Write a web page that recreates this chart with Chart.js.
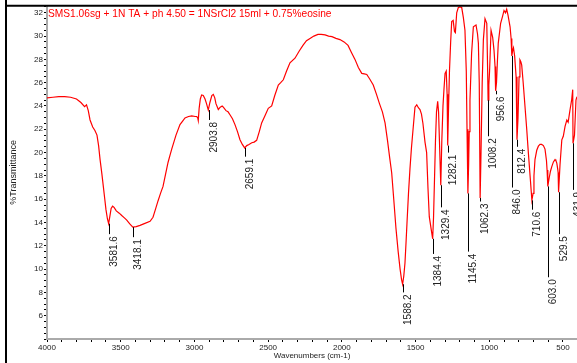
<!DOCTYPE html>
<html>
<head>
<meta charset="utf-8">
<script src="https://cdn.jsdelivr.net/npm/chart.js@4.4.1/dist/chart.umd.min.js"></script>
<style>
  html, body { margin: 0; padding: 0; background: #fff; }
  canvas { display: block; }
</style>
</head>
<body>
<canvas id="chart" width="577" height="363"></canvas>
<script>
const TITLE = "SMS1.06sg + 1N TA + ph 4.50 = 1NSrCl2 15ml + 0.75%eosine";

// spectrum (cm-1, %T)
const wavenumbers = [
  4000, 3960, 3920, 3880, 3840, 3800, 3770, 3745, 3732, 3720, 3708, 3690, 3675, 3661, 3650, 3640,
  3628, 3618, 3608, 3600, 3590, 3582, 3574, 3565, 3555, 3545, 3530, 3510, 3493, 3475, 3459, 3440,
  3418, 3395, 3369, 3340, 3301, 3281, 3265, 3247, 3230, 3213, 3195, 3179, 3165, 3154, 3125, 3098,
  3080, 3064, 3040, 3018, 2995, 2985, 2978, 2974, 2968, 2960, 2951, 2940, 2928, 2918, 2906, 2895,
  2882, 2872, 2862, 2854, 2838, 2825, 2812, 2804, 2786, 2772, 2759, 2742, 2725, 2708, 2691, 2675,
  2659, 2645, 2630, 2611, 2595, 2578, 2560, 2544, 2520, 2499, 2476, 2455, 2431, 2415, 2397, 2375,
  2352, 2318, 2290, 2264, 2240, 2216, 2190, 2162, 2140, 2114, 2090, 2067, 2040, 2013, 1985, 1958,
  1935, 1911, 1888, 1865, 1848, 1831, 1810, 1787, 1765, 1746, 1725, 1707, 1690, 1675, 1662, 1648,
  1633, 1618, 1605, 1595, 1588, 1580, 1572, 1565, 1558, 1548, 1538, 1528, 1517, 1504, 1492, 1481,
  1470, 1460, 1450, 1436, 1425, 1416, 1407, 1395, 1384, 1378, 1372, 1365, 1358, 1350, 1344, 1338,
  1329, 1322, 1314, 1307, 1300, 1292, 1286, 1282, 1276, 1270, 1262, 1255, 1245, 1236, 1230, 1221,
  1210, 1198, 1187, 1176, 1165, 1156, 1151, 1145, 1140, 1136, 1131, 1120, 1108, 1090, 1080, 1074,
  1068, 1062, 1056, 1048, 1040, 1029, 1017, 1011, 1008, 1003, 998, 988, 977, 968, 961, 957,
  951, 945, 939, 923, 910, 900, 890, 882, 873, 859, 852, 847, 841, 836, 828, 818,
  812, 805, 798, 792, 786, 780, 770, 758, 746, 735, 722, 711, 703, 697, 690, 678,
  667, 656, 645, 633, 622, 612, 608, 603, 598, 594, 585, 576, 565, 554, 548, 542,
  536, 533, 530, 525, 520, 508, 498, 486, 474, 465, 458, 452, 441, 434, 432, 427,
  422, 412, 405
];
const transmittance = [
  24.7, 24.75, 24.8, 24.8, 24.75, 24.6, 24.3, 23.95, 24.1, 23.6, 22.8, 22.2, 21.9, 21.5, 20.6, 19.4,
  18.2, 17.1, 16.0, 15.1, 14.3, 13.9, 14.5, 15.2, 15.4, 15.3, 15.0, 14.8, 14.6, 14.4, 14.2, 13.9,
  13.6, 13.65, 13.75, 13.9, 14.1, 14.45, 15.1, 15.85, 16.5, 17.1, 18.2, 19.15, 19.8, 20.3, 21.5, 22.4,
  22.7, 22.97, 23.1, 23.15, 23.1, 23.1, 23.0, 22.75, 23.8, 24.6, 24.95, 24.9, 24.6, 24.2, 23.65, 24.3,
  24.9, 25.0, 24.7, 24.2, 23.7, 23.9, 24.0, 23.9, 23.6, 23.5, 23.25, 22.9, 22.4, 21.8, 21.1, 20.7,
  20.4, 20.6, 20.7, 20.85, 20.9, 21.05, 21.8, 22.55, 23.2, 23.8, 24.0, 24.9, 25.8, 26.0, 26.25, 27.0,
  27.7, 28.1, 28.7, 29.2, 29.6, 29.8, 30.0, 30.15, 30.15, 30.1, 30.0, 29.95, 29.8, 29.7, 29.5, 29.2,
  28.6, 28.0, 27.3, 26.8, 26.75, 26.7, 26.3, 25.8, 25.0, 24.25, 23.5, 22.55, 21.0, 19.5, 18.27, 16.0,
  13.5, 11.5, 10.0, 9.1, 8.7, 9.4, 10.5, 12.2, 14.0, 16.5, 18.6, 20.4, 22.0, 23.9, 24.1, 23.85,
  23.7, 23.3, 22.5, 20.9, 20.0, 17.0, 14.5, 13.5, 12.6, 14.5, 17.5, 21.0, 23.5, 24.4, 23.5, 21.0,
  17.2, 21.0, 24.0, 25.5, 26.8, 27.0, 25.0, 20.6, 24.0, 27.0, 29.5, 31.25, 31.35, 30.4, 30.3, 32.0,
  32.45, 32.5, 32.45, 31.6, 30.5, 27.0, 22.0, 16.5, 19.0, 21.8, 24.5, 28.5, 30.8, 30.95, 30.2, 29.4,
  26.0, 16.1, 20.0, 26.0, 29.7, 31.5, 31.1, 27.0, 24.5, 25.8, 27.0, 30.5, 29.9, 28.8, 27.4, 25.3,
  26.0, 27.8, 29.4, 31.1, 31.7, 32.2, 32.0, 32.3, 31.8, 30.8, 29.8, 28.3, 28.8, 29.0, 28.3, 26.5,
  21.1, 23.0, 26.5, 27.96, 27.8, 27.5, 26.0, 24.0, 22.0, 20.0, 17.8, 15.9, 16.5, 18.0, 19.4, 20.2,
  20.55, 20.7, 20.7, 20.6, 20.3, 19.3, 18.5, 17.1, 17.5, 17.8, 18.4, 18.8, 19.2, 19.4, 19.3, 19.1,
  18.6, 18.3, 16.6, 17.8, 19.0, 21.1, 21.4, 22.25, 22.8, 22.6, 23.2, 23.7, 24.55, 25.4, 20.8, 20.8,
  21.5, 24.5, 24.8
];

// labelled peaks: position, %T at the curve, %T where the label text starts
const peakWavenumbers = [3581.6, 3418.1, 2903.8, 2659.1, 1588.2, 1384.4, 1329.4, 1282.1, 1145.4,
  1062.3, 1008.2, 956.6, 846.0, 812.4, 710.6, 603.0, 529.5, 431.9];
const peakMinima = [13.9, 13.6, 23.65, 20.4, 8.7, 12.6, 17.2, 20.6, 16.5,
  16.1, 24.5, 25.3, 28.3, 21.1, 15.9, 17.1, 16.6, 20.8];
const peakLabelLevels = [13.0, 12.74, 22.8, 19.65, 8.0, 11.3, 15.3, 20.0, 11.5,
  15.8, 21.4, 25.0, 17.0, 20.5, 15.1, 9.3, 13.0, 16.8];

const xTickLabels = [4000, 3500, 3000, 2500, 2000, 1500, 1000, 500];
const yTickLabels = [6, 8, 10, 12, 14, 16, 18, 20, 22, 24, 26, 28, 30, 32];
const xMinorStep = 100;
const yMinorStep = 0.5;

const FONT = '"Liberation Sans", Arial, sans-serif';
Chart.defaults.font.family = FONT;
Chart.defaults.color = '#222';

function minorTicks(from, to, step) {
  const out = [];
  const n = Math.round((to - from) / step);
  for (let i = 0; i <= n; i++) out.push({ value: +(from + i * step).toFixed(3) });
  return out;
}

const peaksPlugin = {
  id: 'peaks',
  beforeDraw(chart) {
    const ctx = chart.ctx;
    ctx.save();
    ctx.fillStyle = '#fff';
    ctx.fillRect(0, 0, chart.width, chart.height);
    ctx.restore();
  },
  afterDatasetsDraw(chart) {
    const { ctx, scales: { x, y }, chartArea } = chart;
    ctx.save();
    ctx.strokeStyle = '#000';
    ctx.lineWidth = 1;
    ctx.fillStyle = '#222';
    ctx.font = '10px ' + FONT;
    peakWavenumbers.forEach((wn, i) => {
      const px = Math.round(x.getPixelForValue(wn)) + 0.5;
      const top = y.getPixelForValue(peakMinima[i]);
      const bot = y.getPixelForValue(peakLabelLevels[i]);
      ctx.beginPath();
      ctx.moveTo(px, top);
      ctx.lineTo(px, bot);
      ctx.stroke();
      ctx.save();
      ctx.translate(px, bot + 2);
      ctx.rotate(-Math.PI / 2);
      ctx.textAlign = 'right';
      ctx.textBaseline = 'top';
      ctx.fillText(wn.toFixed(1), 0, 0);
      ctx.restore();
    });

    // title inside the plot
    ctx.fillStyle = '#ff0000';
    ctx.font = '10.2px ' + FONT;
    ctx.textAlign = 'left';
    ctx.textBaseline = 'middle';
    ctx.fillText(TITLE, chartArea.left + 1, chartArea.top + 8);

    // outer frame
    ctx.strokeStyle = '#000';
    ctx.lineWidth = 2;
    ctx.beginPath();
    ctx.moveTo(6, 0);
    ctx.lineTo(6, chart.height);
    ctx.moveTo(6, chartArea.top);
    ctx.lineTo(chart.width, chartArea.top);
    ctx.stroke();
    ctx.restore();
  }
};

new Chart(document.getElementById('chart'), {
  type: 'line',
  data: {
    datasets: [{
      data: wavenumbers.map((w, i) => ({ x: w, y: transmittance[i] })),
      borderColor: '#ff0000',
      borderWidth: 1.2,
      pointRadius: 0,
      tension: 0,
      fill: false
    }]
  },
  options: {
    responsive: false,
    animation: false,
    layout: { padding: { top: 5, left: 0, right: 0, bottom: 0 } },
    plugins: { legend: { display: false }, tooltip: { enabled: false } },
    scales: {
      x: {
        type: 'linear',
        reverse: true,
        min: 405,
        max: 4000,
        afterBuildTicks(scale) { scale.ticks = minorTicks(500, 4000, xMinorStep); },
        afterFit(scale) { scale.height = 24; },
        border: { color: '#aaa', width: 2 },
        grid: { drawOnChartArea: false, color: '#000', tickLength: 3 },
        ticks: {
          autoSkip: false,
          maxRotation: 0,
          padding: 1,
          font: { size: 8 },
          callback: v => xTickLabels.includes(v) ? String(v) : ''
        },
        title: { display: true, text: 'Wavenumbers (cm-1)', font: { size: 8 }, padding: { top: 0, bottom: 2 } }
      },
      y: {
        min: 4,
        max: 32.6,
        afterBuildTicks(scale) { scale.ticks = minorTicks(4, 32.5, yMinorStep); },
        afterFit(scale) { scale.width = 47; },
        border: { color: '#aaa', width: 2 },
        grid: { drawOnChartArea: false, color: '#000', tickLength: 3 },
        ticks: {
          autoSkip: false,
          padding: 1,
          font: { size: 8 },
          callback: v => yTickLabels.includes(v) ? String(v) : ''
        },
        title: { display: true, text: '%Transmittance', font: { size: 9 }, padding: { top: 8, bottom: 0 } }
      }
    }
  },
  plugins: [peaksPlugin]
});
</script>
</body>
</html>
